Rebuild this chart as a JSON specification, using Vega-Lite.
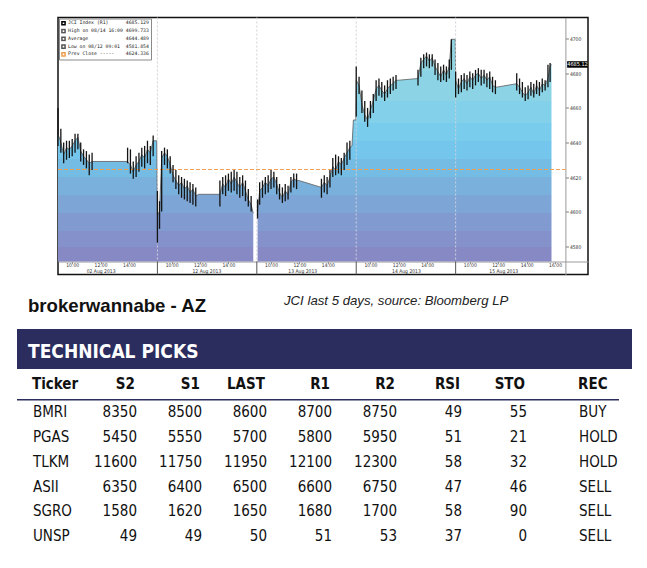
{
  "$schema": "https://vega.github.io/schema/vega-lite/v6.json",
  "background": "white",
  "padding": {"left": 16, "top": 15.5, "right": 8, "bottom": 8},
  "config": {"view": {"stroke": null}, "font": "DejaVu Sans"},
  "datasets": {
    "jci": [
      {"t":0,"c":4645,"h":4660,"l":4638},{"t":0.2,"c":4640,"h":4648,"l":4634},{"t":0.4,"c":4633,"h":4640,"l":4628},{"t":0.6,"c":4637,"h":4641,"l":4630},{"t":0.8,"c":4636,"h":4641,"l":4631},{"t":1.0,"c":4638,"h":4642,"l":4632},{"t":1.2,"c":4641,"h":4645,"l":4634},{"t":1.4,"c":4643,"h":4645,"l":4636},{"t":1.6,"c":4635,"h":4640,"l":4629},{"t":1.8,"c":4632,"h":4636,"l":4627},{"t":2.0,"c":4630,"h":4635,"l":4625},{"t":2.2,"c":4628,"h":4633,"l":4621},{"t":2.4,"c":4629,"h":4634,"l":4624},
      {"t":4.9,"c":4629,"h":4637,"l":4628},{"t":5.1,"c":4627,"h":4636,"l":4622},{"t":5.3,"c":4623,"h":4629,"l":4619},{"t":5.5,"c":4627,"h":4632,"l":4620},{"t":5.7,"c":4629,"h":4634,"l":4623},{"t":5.9,"c":4633,"h":4637,"l":4626},{"t":6.1,"c":4631,"h":4638,"l":4625},{"t":6.3,"c":4636,"h":4641,"l":4628},{"t":6.5,"c":4634,"h":4638,"l":4627},{"t":6.7,"c":4641,"h":4644,"l":4632},{"t":6.95,"c":4641},
      {"t":7.0,"c":4598,"h":4612,"l":4582},{"t":7.15,"c":4600,"h":4606,"l":4590},{"t":7.3,"c":4631,"h":4635,"l":4600},{"t":7.5,"c":4634,"h":4637,"l":4627},{"t":7.7,"c":4632,"h":4636,"l":4625},{"t":7.9,"c":4627,"h":4632,"l":4622},{"t":8.1,"c":4621,"h":4627,"l":4617},{"t":8.3,"c":4618,"h":4624,"l":4613},{"t":8.5,"c":4615,"h":4621,"l":4610},{"t":8.7,"c":4617,"h":4620,"l":4608},{"t":8.9,"c":4613,"h":4619,"l":4607},{"t":9.1,"c":4615,"h":4618,"l":4606},{"t":9.3,"c":4611,"h":4617,"l":4605},{"t":9.5,"c":4613,"h":4616,"l":4604},{"t":9.7,"c":4609,"h":4614,"l":4603},{"t":9.9,"c":4610},
      {"t":11.4,"c":4610,"h":4618,"l":4603},{"t":11.6,"c":4616,"h":4620,"l":4610},{"t":11.8,"c":4614,"h":4621,"l":4609},{"t":12.0,"c":4619,"h":4622,"l":4612},{"t":12.2,"c":4616,"h":4623,"l":4611},{"t":12.4,"c":4620,"h":4624,"l":4612},{"t":12.6,"c":4617,"h":4623,"l":4610},{"t":12.8,"c":4614,"h":4620,"l":4608},{"t":13.0,"c":4617,"h":4621,"l":4609},{"t":13.2,"c":4612,"h":4618,"l":4606},{"t":13.4,"c":4607,"h":4613,"l":4603},{"t":13.6,"c":4604,"h":4609,"l":4600},{"t":13.75,"c":4599},
      {"t":13.9,"c":null},
      {"t":14.05,"c":4600,"h":4607,"l":4596},{"t":14.2,"c":4612,"h":4617,"l":4604},{"t":14.4,"c":4614,"h":4618,"l":4608},{"t":14.6,"c":4617,"h":4620,"l":4610},{"t":14.8,"c":4615,"h":4621,"l":4611},{"t":15.0,"c":4619,"h":4624,"l":4613},{"t":15.2,"c":4620,"h":4623,"l":4614},{"t":15.4,"c":4616,"h":4620,"l":4610},{"t":15.6,"c":4611,"h":4616,"l":4607},{"t":15.8,"c":4608,"h":4614,"l":4605},{"t":16.0,"c":4612,"h":4616,"l":4606},{"t":16.2,"c":4610,"h":4615,"l":4607},{"t":16.4,"c":4617,"h":4620,"l":4611},{"t":16.6,"c":4619,"h":4622,"l":4614},{"t":16.8,"c":4618,"h":4622,"l":4613},{"t":16.95,"c":4618},
      {"t":18.55,"c":4614,"h":4619,"l":4608},{"t":18.75,"c":4617,"h":4621,"l":4611},{"t":18.95,"c":4615,"h":4620,"l":4610},{"t":19.15,"c":4620,"h":4624,"l":4614},{"t":19.35,"c":4626,"h":4631,"l":4620},{"t":19.55,"c":4624,"h":4633,"l":4621},{"t":19.75,"c":4629,"h":4632,"l":4622},{"t":19.95,"c":4627,"h":4631,"l":4621},{"t":20.15,"c":4631,"h":4634,"l":4624},{"t":20.35,"c":4634,"h":4640,"l":4627},{"t":20.55,"c":4637,"h":4641,"l":4630},{"t":20.7,"c":4638},{"t":20.8,"c":4653},{"t":20.97,"c":4653},
      {"t":21.0,"c":4676,"h":4684,"l":4655},{"t":21.2,"c":4673,"h":4678,"l":4668},{"t":21.4,"c":4662,"h":4670,"l":4657},{"t":21.6,"c":4656,"h":4664,"l":4652},{"t":21.8,"c":4653,"h":4660,"l":4649},{"t":22.0,"c":4659,"h":4664,"l":4654},{"t":22.2,"c":4664,"h":4668,"l":4657},{"t":22.4,"c":4671,"h":4676,"l":4664},{"t":22.6,"c":4673,"h":4677,"l":4667},{"t":22.8,"c":4670,"h":4675,"l":4666},{"t":23.0,"c":4668,"h":4673,"l":4664},{"t":23.2,"c":4671,"h":4676,"l":4666},{"t":23.4,"c":4673,"h":4677,"l":4668},{"t":23.6,"c":4674,"h":4678,"l":4670},{"t":23.8,"c":4676,"h":4679,"l":4671},{"t":23.97,"c":4676},
      {"t":25.35,"c":4677,"h":4682,"l":4673},{"t":25.55,"c":4686,"h":4689,"l":4678},{"t":25.75,"c":4688,"h":4691,"l":4683},{"t":25.95,"c":4690,"h":4692,"l":4684},{"t":26.15,"c":4687,"h":4691,"l":4683},{"t":26.35,"c":4689,"h":4691,"l":4684},{"t":26.55,"c":4684,"h":4688,"l":4679},{"t":26.75,"c":4681,"h":4686,"l":4676},{"t":26.95,"c":4678,"h":4684,"l":4675},{"t":27.15,"c":4682,"h":4685,"l":4676},{"t":27.35,"c":4679,"h":4684,"l":4675},{"t":27.55,"c":4684,"h":4688,"l":4677},{"t":27.7,"c":4699.7,"h":4699.7,"l":4682},{"t":27.97,"c":4699.7},
      {"t":28.0,"c":4676,"h":4681,"l":4666},{"t":28.2,"c":4671,"h":4677,"l":4668},{"t":28.4,"c":4675,"h":4679,"l":4669},{"t":28.6,"c":4677,"h":4680,"l":4671},{"t":28.8,"c":4674,"h":4679,"l":4670},{"t":29.0,"c":4678,"h":4681,"l":4672},{"t":29.2,"c":4676,"h":4680,"l":4671},{"t":29.4,"c":4679,"h":4682,"l":4673},{"t":29.6,"c":4680,"h":4683,"l":4675},{"t":29.8,"c":4677,"h":4682,"l":4673},{"t":30.0,"c":4679,"h":4682,"l":4674},{"t":30.2,"c":4676,"h":4680,"l":4672},{"t":30.4,"c":4678,"h":4681,"l":4671},{"t":30.6,"c":4673,"h":4678,"l":4669},{"t":30.8,"c":4672,"h":4676,"l":4668},{"t":30.9,"c":4672},
      {"t":32.3,"c":4674,"h":4680,"l":4670},{"t":32.5,"c":4672,"h":4677,"l":4668},{"t":32.7,"c":4669,"h":4675,"l":4666},{"t":32.9,"c":4667,"h":4672,"l":4664},{"t":33.1,"c":4669,"h":4673,"l":4665},{"t":33.3,"c":4672,"h":4675,"l":4667},{"t":33.5,"c":4668,"h":4674,"l":4666},{"t":33.7,"c":4673,"h":4676,"l":4668},{"t":33.9,"c":4670,"h":4675,"l":4667},{"t":34.1,"c":4674,"h":4677,"l":4669},{"t":34.3,"c":4673,"h":4676,"l":4670},{"t":34.5,"c":4677,"h":4685,"l":4672},{"t":34.65,"c":4684,"h":4686,"l":4675},{"t":34.75,"c":4685.129}
    ],
    "days": [{"t": 7}, {"t": 14}, {"t": 21}, {"t": 28}],
    "stats": [
      {"name": "JCI Index (R1)", "value": 4685.129},
      {"name": "High on 08/14 16:00", "value": 4699.733},
      {"name": "Average", "value": 4644.489},
      {"name": "Low on 08/12 09:01", "value": 4581.854},
      {"name": "Prev Close", "value": 4624.336}
    ],
    "last": [{"v": 4685.129, "lbl": "4685.12"}],
    "picks": [
      {"Ticker": "BMRI", "S2": 8350, "S1": 8500, "LAST": 8600, "R1": 8700, "R2": 8750, "RSI": 49, "STO": 55, "REC": "BUY"},
      {"Ticker": "PGAS", "S2": 5450, "S1": 5550, "LAST": 5700, "R1": 5800, "R2": 5950, "RSI": 51, "STO": 21, "REC": "HOLD"},
      {"Ticker": "TLKM", "S2": 11600, "S1": 11750, "LAST": 11950, "R1": 12100, "R2": 12300, "RSI": 58, "STO": 32, "REC": "HOLD"},
      {"Ticker": "ASII", "S2": 6350, "S1": 6400, "LAST": 6500, "R1": 6600, "R2": 6750, "RSI": 47, "STO": 46, "REC": "SELL"},
      {"Ticker": "SGRO", "S2": 1580, "S1": 1620, "LAST": 1650, "R1": 1680, "R2": 1700, "RSI": 58, "STO": 90, "REC": "SELL"},
      {"Ticker": "UNSP", "S2": 49, "S1": 49, "LAST": 50, "R1": 51, "R2": 53, "RSI": 37, "STO": 0, "REC": "SELL"}
    ],
    "headers": [{"col": "Ticker"}, {"col": "S2"}, {"col": "S1"}, {"col": "LAST"}, {"col": "R1"}, {"col": "R2"}, {"col": "RSI"}, {"col": "STO"}, {"col": "REC"}]
  },
  "spacing": 5.8,
  "resolve": {"scale": {"color": "independent"}, "legend": {"color": "independent"}},
  "vconcat": [
    {
      "spacing": 0,
      "resolve": {"scale": {"color": "independent"}, "legend": {"color": "independent"}},
      "hconcat": [
        {"width": 38, "height": 257, "data": {"values": []}, "mark": "point", "encoding": {}},
        {
          "width": 530,
          "height": 257,
          "view": {"stroke": "#111111", "strokeWidth": 1.5},
          "resolve": {"axis": {"x": "independent"}},
          "layer": [
            {
              "data": {"name": "jci"},
              "mark": {
                "type": "area",
                "invalid": "break-paths-show-domains",
                "opacity": 1,
                "fillOpacity": 1,
                "fill": {
                  "gradient": "linear", "x1": 0, "y1": 0, "x2": 0, "y2": 1,
                  "stops": [
                    {"offset": 0, "color": "#92d5e3"}, {"offset": 0.142, "color": "#92d5e3"},
                    {"offset": 0.142, "color": "#8cd3e6"}, {"offset": 0.277, "color": "#8cd3e6"},
                    {"offset": 0.277, "color": "#83d0ea"}, {"offset": 0.376, "color": "#83d0ea"},
                    {"offset": 0.376, "color": "#7accec"}, {"offset": 0.457, "color": "#7accec"},
                    {"offset": 0.457, "color": "#74c6ec"}, {"offset": 0.537, "color": "#74c6ec"},
                    {"offset": 0.537, "color": "#75bce4"}, {"offset": 0.618, "color": "#75bce4"},
                    {"offset": 0.618, "color": "#79b0dc"}, {"offset": 0.699, "color": "#79b0dc"},
                    {"offset": 0.699, "color": "#7da5d6"}, {"offset": 0.78, "color": "#7da5d6"},
                    {"offset": 0.78, "color": "#819ad0"}, {"offset": 0.861, "color": "#819ad0"},
                    {"offset": 0.861, "color": "#8491ca"}, {"offset": 0.937, "color": "#8491ca"},
                    {"offset": 0.937, "color": "#8789c4"}, {"offset": 1, "color": "#8789c4"}
                  ]
                },
                "line": {"color": "#5c5c5c", "strokeWidth": 0.8}
              },
              "encoding": {
                "x": {
                  "field": "t", "type": "quantitative",
                  "scale": {"domain": [0, 37.32], "nice": false, "zero": false},
                  "axis": {
                    "orient": "bottom", "offset": -13, "title": null, "grid": false,
                    "values": [1,3,5,8,10,12,15,17,19,22,24,26,29,31,33,35],
                    "domainColor": "#9a9a9a", "domainWidth": 1,
                    "tickColor": "#777777", "tickSize": 2, "tickWidth": 0.8,
                    "labelFont": "DejaVu Sans Condensed", "labelFontSize": 5, "labelColor": "#333333",
                    "labelPadding": -1.3, "labelOverlap": false, "labelFlush": false, "labelBound": false,
                    "labelExpr": "datum.value % 7 == 1 ? '10:00' : datum.value % 7 == 3 ? '12:00' : datum.value % 7 == 5 ? '14:00' : '16:00'"
                  }
                },
                "y": {
                  "field": "c", "type": "quantitative",
                  "scale": {"domain": [4563.6, 4712.3], "nice": false, "zero": false},
                  "axis": {
                    "orient": "right", "offset": -22.6, "title": null, "grid": false,
                    "values": [4580,4590,4600,4610,4620,4630,4640,4650,4660,4670,4680,4690,4700],
                    "domainColor": "#9a9a9a", "domainWidth": 1,
                    "tickColor": "#555555", "tickSize": 3, "tickWidth": 0.8,
                    "labelFont": "DejaVu Sans Condensed", "labelFontSize": 5, "labelColor": "#333333",
                    "labelPadding": 1, "labelOverlap": false, "labelBaseline": "middle",
                    "labelExpr": "datum.value % 20 == 0 ? format(datum.value, 'd') : ''"
                  }
                },
                "y2": {"datum": 4571.15}
              }
            },
            {
              "data": {"name": "days"},
              "mark": {"type": "rule", "color": "#cfd2da", "strokeDash": [2, 2], "strokeWidth": 1},
              "encoding": {
                "x": {
                  "field": "t", "type": "quantitative",
                  "axis": {
                    "orient": "bottom", "offset": -13, "title": null, "grid": false,
                    "domain": false, "ticks": false,
                    "values": [3.0, 10.45, 17.2, 24.5, 31.35],
                    "labelFont": "DejaVu Sans Condensed", "labelFontSize": 5, "labelColor": "#333333",
                    "labelPadding": 6.7, "labelOverlap": false, "labelFlush": false, "labelBound": false,
                    "labelExpr": "['02 Aug 2013', '12 Aug 2013', '13 Aug 2013', '14 Aug 2013', '15 Aug 2013'][floor(datum.value / 7)]"
                  }
                },
                "y": {"datum": 4712.3},
                "y2": {"datum": 4571.15}
              }
            },
            {
              "data": {"name": "days"},
              "mark": {"type": "rule", "color": "#555555", "strokeWidth": 1},
              "encoding": {
                "x": {"field": "t", "type": "quantitative", "axis": null},
                "y": {"datum": 4571.15},
                "y2": {"datum": 4563.6}
              }
            },
            {
              "data": {"name": "stats"},
              "transform": [{"filter": "datum.name == 'Prev Close'"}],
              "mark": {"type": "rule", "strokeDash": [4, 2], "strokeWidth": 1},
              "encoding": {
                "x": {"datum": 0, "axis": null},
                "x2": {"datum": 35.75},
                "y": {"field": "value", "type": "quantitative"},
                "color": {
                  "field": "name", "type": "nominal",
                  "scale": {
                    "domain": ["JCI Index (R1)", "High on 08/14 16:00", "Average", "Low on 08/12 09:01", "Prev Close"],
                    "range": ["#000000", "#555555", "#555555", "#555555", "#f0a050"]
                  },
                  "legend": {
                    "title": null, "orient": "top-left", "offset": 1, "padding": 2,
                    "strokeColor": "#8a8a8a", "fillColor": "#ffffff",
                    "labelFont": "DejaVu Sans Mono", "labelFontSize": 4.8, "labelColor": "#222222",
                    "symbolType": "square", "symbolSize": 10, "symbolStrokeWidth": 1.5, "symbolDash": [],
                    "clipHeight": 5.5, "rowPadding": 0.8, "labelOffset": 2, "labelLimit": 300,
                    "labelExpr": "datum.label == 'JCI Index (R1)' ? 'JCI Index (R1)\u00a0\u00a0\u00a0\u00a0\u00a0\u00a04685.129' : datum.label == 'High on 08/14 16:00' ? 'High on 08/14 16:00\u00a04699.733' : datum.label == 'Average' ? 'Average\u00a0\u00a0\u00a0\u00a0\u00a0\u00a0\u00a0\u00a0\u00a0\u00a0\u00a0\u00a0\u00a04644.489' : datum.label == 'Low on 08/12 09:01' ? 'Low on 08/12 09:01\u00a0\u00a04581.854' : 'Prev Close -----\u00a0\u00a0\u00a0\u00a04624.336'"
                  }
                }
              }
            },
            {
              "data": {"name": "jci"},
              "mark": {"type": "rule", "color": "#141414", "strokeWidth": 1.3},
              "encoding": {
                "x": {"field": "t", "type": "quantitative", "axis": null},
                "y": {"field": "l", "type": "quantitative"},
                "y2": {"field": "h"}
              }
            },
            {
              "data": {"name": "last"},
              "mark": {"type": "rule", "color": "#000000", "strokeWidth": 6.5, "strokeCap": "butt"},
              "encoding": {
                "x": {"datum": 35.85, "axis": null},
                "x2": {"datum": 37.3},
                "y": {"field": "v", "type": "quantitative"}
              }
            },
            {
              "data": {"name": "last"},
              "mark": {"type": "text", "color": "#ffffff", "font": "DejaVu Sans Condensed", "fontSize": 5.5, "baseline": "middle", "align": "center"},
              "encoding": {
                "x": {"datum": 36.58, "axis": null},
                "y": {"field": "v", "type": "quantitative"},
                "text": {"field": "lbl"}
              }
            }
          ]
        }
      ]
    },
    {
      "width": 267,
      "height": 40.4,
      "layer": [
        {
          "data": {"values": [{"label": "brokerwannabe - AZ"}]},
          "mark": {"type": "text", "align": "left", "baseline": "alphabetic", "dx": 11, "dy": 9.5, "font": "Liberation Sans", "fontWeight": "bold", "fontSize": 18.6, "color": "#111111"},
          "encoding": {
            "x": {"field": "label", "type": "nominal", "scale": {"type": "point", "padding": 0, "domain": ["brokerwannabe - AZ", "JCI last 5 days, source: Bloomberg LP"]}, "axis": null},
            "text": {"field": "label"}
          }
        },
        {
          "data": {"values": [{"label": "JCI last 5 days, source: Bloomberg LP"}]},
          "mark": {"type": "text", "align": "left", "baseline": "alphabetic", "dx": 0, "dy": 2.5, "font": "Liberation Sans", "fontStyle": "italic", "fontSize": 13.2, "color": "#222222"},
          "encoding": {
            "x": {"field": "label", "type": "nominal", "axis": null},
            "text": {"field": "label"}
          }
        }
      ]
    },
    {
      "width": 615,
      "height": 40,
      "view": {"fill": "#2b2d5e", "stroke": null},
      "data": {"values": [{"label": "TECHNICAL PICKS"}]},
      "mark": {"type": "text", "align": "left", "baseline": "alphabetic", "dx": 11, "dy": 8.5, "font": "DejaVu Sans Condensed", "fontWeight": "bold", "fontSize": 19, "color": "#ffffff"},
      "encoding": {
        "x": {"field": "label", "type": "nominal", "scale": {"type": "point", "padding": 0, "align": 0}, "axis": null},
        "text": {"field": "label"}
      }
    },
    {
      "width": 602,
      "height": 173.6,
      "layer": [
        {
          "data": {"name": "picks"},
          "transform": [{"fold": ["S2", "S1", "LAST", "R1", "R2", "RSI", "STO"], "as": ["col", "val"]}],
          "mark": {"type": "text", "align": "right", "baseline": "middle", "dx": 14, "font": "DejaVu Sans Condensed, DejaVu Sans", "fontSize": 15, "color": "#111111"},
          "encoding": {
            "x": {"field": "col", "type": "nominal", "scale": {"type": "point", "padding": 0.63, "domain": ["Ticker", "S2", "S1", "LAST", "R1", "R2", "RSI", "STO", "REC"]}, "axis": null},
            "y": {"field": "Ticker", "type": "nominal", "scale": {"type": "band", "paddingInner": 0, "paddingOuter": 0, "domain": ["Ticker", "BMRI", "PGAS", "TLKM", "ASII", "SGRO", "UNSP"]}, "axis": null},
            "text": {"field": "val", "type": "nominal"}
          }
        },
        {
          "data": {"name": "picks"},
          "mark": {"type": "text", "align": "left", "baseline": "middle", "dx": -25, "font": "DejaVu Sans Condensed, DejaVu Sans", "fontSize": 15, "color": "#111111"},
          "encoding": {
            "x": {"datum": "Ticker"},
            "y": {"field": "Ticker", "type": "nominal"},
            "text": {"field": "Ticker", "type": "nominal"}
          }
        },
        {
          "data": {"name": "picks"},
          "mark": {"type": "text", "align": "left", "baseline": "middle", "dx": 1, "font": "DejaVu Sans Condensed, DejaVu Sans", "fontSize": 15, "color": "#111111"},
          "encoding": {
            "x": {"datum": "REC"},
            "y": {"field": "Ticker", "type": "nominal"},
            "text": {"field": "REC", "type": "nominal"}
          }
        },
        {
          "data": {"name": "headers"},
          "transform": [{"filter": "datum.col != 'Ticker' && datum.col != 'REC'"}],
          "mark": {"type": "text", "align": "right", "baseline": "middle", "dx": 12, "dy": -3, "font": "DejaVu Sans Condensed, DejaVu Sans", "fontWeight": "bold", "fontSize": 15, "color": "#111111"},
          "encoding": {
            "x": {"field": "col", "type": "nominal"},
            "y": {"datum": "Ticker"},
            "text": {"field": "col", "type": "nominal"}
          }
        },
        {
          "data": {"name": "headers"},
          "transform": [{"filter": "datum.col == 'Ticker'"}],
          "mark": {"type": "text", "align": "left", "baseline": "middle", "dx": -26, "dy": -3, "font": "DejaVu Sans Condensed, DejaVu Sans", "fontWeight": "bold", "fontSize": 15, "color": "#111111"},
          "encoding": {
            "x": {"field": "col", "type": "nominal"},
            "y": {"datum": "Ticker"},
            "text": {"field": "col", "type": "nominal"}
          }
        },
        {
          "data": {"name": "headers"},
          "transform": [{"filter": "datum.col == 'REC'"}],
          "mark": {"type": "text", "align": "left", "baseline": "middle", "dx": 0, "dy": -3, "font": "DejaVu Sans Condensed, DejaVu Sans", "fontWeight": "bold", "fontSize": 15, "color": "#111111"},
          "encoding": {
            "x": {"field": "col", "type": "nominal"},
            "y": {"datum": "Ticker"},
            "text": {"field": "col", "type": "nominal"}
          }
        },
        {
          "data": {"name": "headers"},
          "transform": [{"filter": "datum.col == 'Ticker'"}],
          "mark": {"type": "rule", "color": "#2b2d5e", "strokeWidth": 1.6},
          "encoding": {
            "y": {"datum": "BMRI", "bandPosition": 0}
          }
        }
      ]
    }
  ]
}
